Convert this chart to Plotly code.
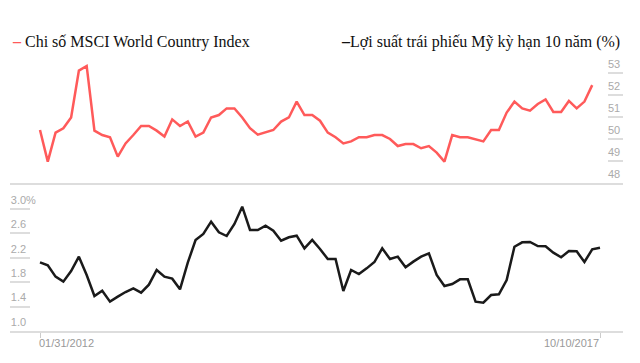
import pandas as pd
import plotly.graph_objects as go

# ---- data ----
dates = pd.date_range("2012-01-31", "2017-10-10", periods=73)

msci = [50.41, 48.97, 50.29, 50.49, 50.98, 53.11, 53.32, 50.38, 50.18, 50.08,
        49.20, 49.80, 50.18, 50.59, 50.59, 50.38, 50.11, 50.89, 50.59, 50.80,
        50.11, 50.29, 50.98, 51.09, 51.39, 51.39, 50.98, 50.49, 50.20, 50.29,
        50.41, 50.79, 50.98, 51.70, 51.09, 51.09, 50.83, 50.29, 50.08, 49.80,
        49.89, 50.08, 50.08, 50.18, 50.18, 50.00, 49.68, 49.77, 49.77, 49.58,
        49.68, 49.38, 48.97, 50.18, 50.08, 50.08, 49.98, 49.89, 50.41, 50.41,
        51.20, 51.70, 51.39, 51.29, 51.59, 51.80, 51.23, 51.23, 51.73, 51.39,
        51.70, 52.45]

yield10 = [2.126, 2.077, 1.891, 1.809, 1.984, 2.219, 1.918, 1.574, 1.661, 1.481,
           1.563, 1.639, 1.699, 1.628, 1.760, 2.000, 1.891, 1.858, 1.683, 2.120,
           2.492, 2.590, 2.792, 2.617, 2.557, 2.754, 3.038, 2.656, 2.656, 2.727,
           2.645, 2.481, 2.536, 2.563, 2.355, 2.492, 2.344, 2.180, 2.180, 1.656,
           2.000, 1.934, 2.027, 2.131, 2.355, 2.180, 2.219, 2.044, 2.137, 2.219,
           2.273, 1.918, 1.738, 1.770, 1.847, 1.847, 1.481, 1.464, 1.590, 1.601,
           1.836, 2.382, 2.454, 2.459, 2.393, 2.388, 2.284, 2.208, 2.311, 2.306,
           2.131, 2.339, 2.366]

msci_ticks = [48, 49, 50, 51, 52, 53]
yield_ticks = [1.0, 1.4, 1.8, 2.2, 2.6, 3.0]
yield_ticktext = ["1.0", "1.4", "1.8", "2.2", "2.6", "3.0%"]
x_labels = ["01/31/2012", "10/10/2017"]
series_names = ["Chi số MSCI World Country Index",
                "Lợi suất trái phiếu Mỹ kỳ hạn 10 năm (%)"]

RED = "#ff5a5a"
BLACK = "#1a1a1a"
GRID = "#dddddd"
TICKC = "#aaaaaa"

# page body has an 8px margin; lay out in window pixels and compensate
OFF = 8
W, H = 640 - OFF, 363 - OFF
L_px, R_px, T_px, B_px = 10, 623, 40, 331      # plot area in window pixels
ML, MR, MT, MB = L_px - OFF, (W + OFF) - R_px, T_px - OFF, (H + OFF) - B_px
plot_w = R_px - L_px
plot_h = B_px - T_px


def px_x(x):
    return (x - L_px) / plot_w


def px_y(y):
    return (B_px - y) / plot_h


# x range: first point at 40px, last at 600px
span = dates[-1] - dates[0]
per_px = span / (600 - 40)
x_range = [dates[0] - per_px * (40 - L_px), dates[-1] + per_px * (R_px - 600)]

split = px_y(183)

fig = go.Figure()
fig.add_trace(go.Scatter(x=dates[:len(msci)], y=msci, mode="lines",
                         name=series_names[0],
                         line=dict(color=RED, width=2.5),
                         xaxis="x", yaxis="y", showlegend=False))
fig.add_trace(go.Scatter(x=dates, y=yield10, mode="lines",
                         name=series_names[1],
                         line=dict(color=BLACK, width=2.5),
                         xaxis="x2", yaxis="y2", showlegend=False))

tickfont = dict(family="Liberation Sans, Arial, sans-serif", size=11, color=TICKC)

fig.update_layout(
    width=W, height=H,
    margin=dict(l=ML, r=MR, t=MT, b=MB, autoexpand=False),
    paper_bgcolor="white", plot_bgcolor="white",
    xaxis=dict(domain=[0, 1], anchor="y", range=x_range, showgrid=False,
               zeroline=False, showticklabels=False, ticks="",
               showline=True, linecolor=GRID, linewidth=1.5, automargin=False),
    yaxis=dict(domain=[split, 1], anchor="x", range=[48, 48 + (183 - 40) / 22],
               side="right",
               tickvals=msci_ticks, ticklabelposition="inside",
               ticklabelshift=-9, ticklabelstandoff=-13,
               showgrid=False, zeroline=False,
               tickfont=tickfont, ticks="inside", ticklen=15,
               tickcolor=GRID, tickwidth=1.5, automargin=False),
    xaxis2=dict(domain=[0, 1], anchor="y2", range=x_range, showgrid=False,
                zeroline=False, showticklabels=False,
                tickvals=[dates[0], dates[-1]], ticks="outside", ticklen=5,
                tickcolor="#cccccc", showline=True, linecolor=GRID,
                linewidth=1.5, automargin=False),
    yaxis2=dict(domain=[0, split], anchor="x2", range=[1.0, 1.0 + 148 / 61],
                side="left", tickvals=yield_ticks, ticktext=yield_ticktext,
                ticklabelposition="inside", ticklabelshift=-9,
                ticklabelstandoff=-20,
                showgrid=False, zeroline=False, tickfont=tickfont,
                ticks="inside", ticklen=20, tickcolor=GRID, tickwidth=1.5,
                automargin=False),
)

# x-axis end labels
labfont = dict(family="Liberation Sans, Arial, sans-serif", size=11,
               color="#999999")
fig.add_annotation(x=dates[0], xref="x2", y=px_y(343), yref="paper",
                   text=x_labels[0], showarrow=False, xanchor="left",
                   yanchor="middle", xshift=-3, font=labfont)
fig.add_annotation(x=dates[-1], xref="x2", y=px_y(343), yref="paper",
                   text=x_labels[1], showarrow=False, xanchor="right",
                   yanchor="middle", xshift=1, font=labfont)

# legend-like header
legfont = dict(family="Liberation Serif, Times New Roman, serif", size=16,
               color="#111111")
fig.add_annotation(x=0, xref="paper", y=px_y(42), yref="paper",
                   text=f"<span style='color:{RED}'><b>–</b></span> {series_names[0]}",
                   showarrow=False, xanchor="left", yanchor="middle",
                   font=legfont)
fig.add_annotation(x=px_x(622), xref="paper", y=px_y(42), yref="paper",
                   text=f"<b>–</b>{series_names[1]}",
                   showarrow=False, xanchor="right", yanchor="middle",
                   font=legfont)

fig.write_html("out.html")
